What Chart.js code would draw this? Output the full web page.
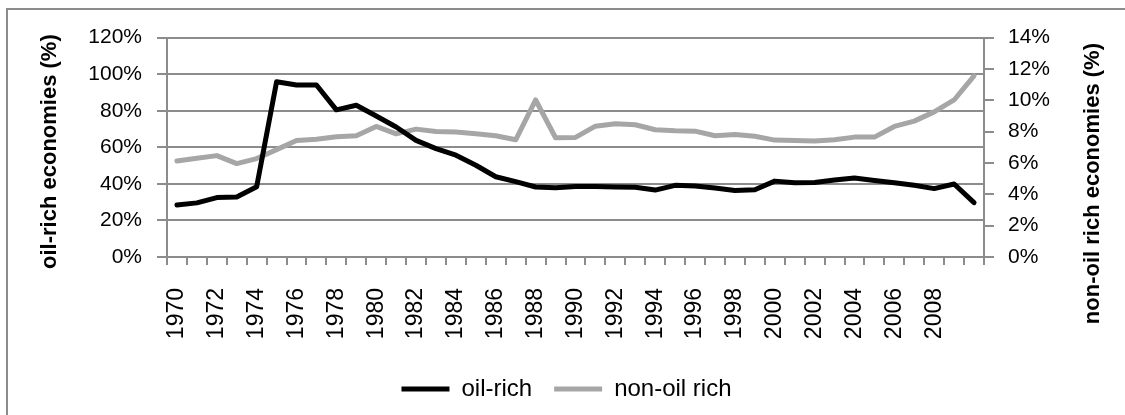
<!DOCTYPE html>
<html>
<head>
<meta charset="utf-8">
<script src="https://cdn.jsdelivr.net/npm/chart.js@4.4.1/dist/chart.umd.min.js"></script>
<style>
  html, body { margin: 0; padding: 0; background: #fff; overflow: hidden; }
  #frame {
    position: absolute; left: 6px; top: 8px;
    width: 1130px; height: 420px;
    border-left: 2px solid #8c8c8c; border-top: 2px solid #8c8c8c;
  }
  #box { position: absolute; left: 0; top: 0; width: 1117px; height: 405px; }
</style>
</head>
<body>
<div id="frame"><div id="box"><canvas id="chart"></canvas></div></div>
<script>
// Jahre 1970-2010
const years = [];
for (let y = 1970; y <= 2010; y++) years.push(String(y));

// oil-rich economies (%), linke Achse
const oilRich = [28.5, 29.6, 32.5, 32.8, 38.4, 95.9, 94.1, 94.1, 80.5, 83.0,
                 77.1, 71.1, 63.8, 59.3, 55.7, 50.2, 43.9, 41.2, 38.3, 37.9,
                 38.6, 38.6, 38.3, 38.1, 36.6, 39.2, 38.8, 37.7, 36.4, 36.8,
                 41.5, 40.6, 40.8, 42.1, 43.2, 41.9, 40.6, 39.2, 37.4, 39.9, 29.7];

// non-oil rich economies (%), rechte Achse
const nonOilRich = [6.13, 6.30, 6.47, 5.96, 6.28, 6.85, 7.44, 7.51, 7.67, 7.74,
                    8.33, 7.86, 8.16, 8.01, 7.97, 7.86, 7.74, 7.48, 10.02, 7.61,
                    7.63, 8.35, 8.50, 8.44, 8.12, 8.05, 8.03, 7.74, 7.82, 7.70,
                    7.46, 7.44, 7.40, 7.48, 7.65, 7.65, 8.33, 8.67, 9.26, 10.02, 11.56];

const leftTitle = 'oil-rich economies (%)';
const rightTitle = 'non-oil rich economies (%)';

const gridColor = '#8c8c8c';
const fontFamily = '"Liberation Sans", Arial, sans-serif';

Chart.defaults.font.family = fontFamily;
Chart.defaults.color = '#000';

// Achsentitel wie in Excel: beide von unten nach oben gelesen
const axisTitles = {
  id: 'axisTitles',
  afterDraw(chart) {
    const { ctx, chartArea } = chart;
    ctx.save();
    ctx.font = 'bold 22px ' + fontFamily;
    ctx.fillStyle = '#000';
    ctx.textAlign = 'center';
    ctx.textBaseline = 'middle';
    ctx.translate(chartArea.left - 117, chartArea.top + 114);
    ctx.rotate(-Math.PI / 2);
    ctx.fillText(leftTitle, 0, 0);
    ctx.restore();

    ctx.save();
    ctx.font = 'bold 22px ' + fontFamily;
    ctx.fillStyle = '#000';
    ctx.textAlign = 'center';
    ctx.textBaseline = 'middle';
    ctx.translate(chartArea.right + 109, chartArea.top + 146);
    ctx.rotate(-Math.PI / 2);
    ctx.fillText(rightTitle, 0, 0);
    ctx.restore();
  }
};

new Chart(document.getElementById('chart'), {
  type: 'line',
  data: {
    labels: years,
    datasets: [
      {
        label: 'oil-rich',
        data: oilRich,
        yAxisID: 'y',
        borderColor: '#000000',
        backgroundColor: '#000000',
        borderWidth: 5,
        pointRadius: 0,
        tension: 0,
        borderJoinStyle: 'round',
        borderCapStyle: 'round'
      },
      {
        label: 'non-oil rich',
        data: nonOilRich,
        yAxisID: 'y2',
        borderColor: '#a6a6a6',
        backgroundColor: '#a6a6a6',
        borderWidth: 5,
        pointRadius: 0,
        tension: 0,
        borderJoinStyle: 'round',
        borderCapStyle: 'round'
      }
    ]
  },
  options: {
    responsive: true,
    maintainAspectRatio: false,
    animation: false,
    layout: { padding: { top: 27, bottom: 4 } },
    plugins: {
      tooltip: { enabled: false },
      legend: {
        position: 'bottom',
        labels: {
          boxWidth: 48,
          boxHeight: 5,
          padding: 22,
          font: { size: 24 },
          generateLabels(chart) {
            return Chart.defaults.plugins.legend.labels.generateLabels(chart)
              .map(item => ({ ...item, fillStyle: item.strokeStyle, lineWidth: 0 }));
          }
        }
      }
    },
    scales: {
      x: {
        offset: true,
        grid: {
          offset: true,
          drawOnChartArea: false,
          color: gridColor,
          lineWidth: 2,
          tickLength: 8
        },
        border: { color: gridColor, width: 2 },
        ticks: {
          autoSkip: false,
          minRotation: 90,
          maxRotation: 90,
          padding: 23,
          font: { size: 23 },
          callback: (v, i) => (i % 2 === 0 && i < years.length - 1) ? years[i] : ''
        },
        afterFit(scale) { scale.height = 98; }
      },
      y: {
        position: 'left',
        min: 0,
        max: 120,
        ticks: {
          stepSize: 20,
          padding: 15,
          font: { size: 21 },
          callback: v => v + '%'
        },
        grid: { color: gridColor, lineWidth: 2, tickLength: 10 },
        border: { color: gridColor, width: 2 },
        afterFit(scale) { scale.width = 159; }
      },
      y2: {
        position: 'right',
        min: 0,
        max: 14,
        ticks: {
          stepSize: 2,
          padding: 14,
          font: { size: 21 },
          callback: v => v + '%'
        },
        grid: { drawOnChartArea: false, color: gridColor, lineWidth: 2, tickLength: 10 },
        border: { color: gridColor, width: 2 },
        afterFit(scale) { scale.width = 141; }
      }
    }
  },
  plugins: [axisTitles]
});
</script>
</body>
</html>
